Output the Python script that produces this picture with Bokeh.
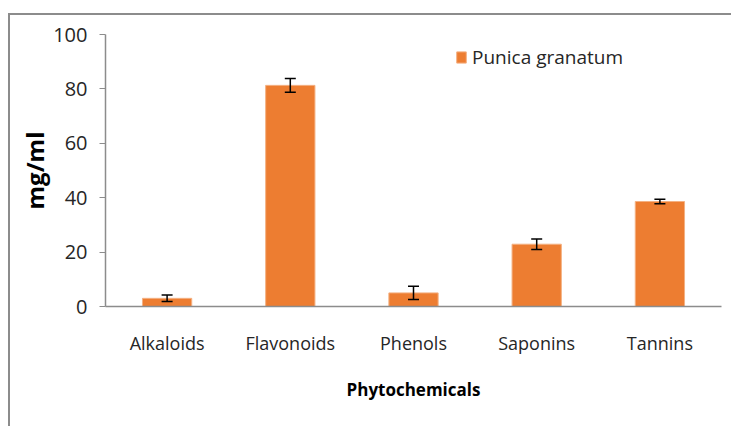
from bokeh.plotting import figure
from bokeh.models import ColumnDataSource, Whisker, Legend, LegendItem, Range1d, FixedTicker
from bokeh.embed import file_html
from bokeh.resources import INLINE

categories = ["Alkaloids", "Flavonoids", "Phenols", "Saponins", "Tannins"]
values = [3.0, 81.3, 5.0, 22.9, 38.6]
errors = [1.2, 2.5, 2.4, 1.9, 0.8]
series_name = "Punica granatum"
y_ticks = [0, 20, 40, 60, 80, 100]

src = ColumnDataSource(dict(
    cat=categories,
    val=values,
    upper=[v + e for v, e in zip(values, errors)],
    lower=[v - e for v, e in zip(values, errors)],
))

FONT = "Open Sans"
TXT = "#262626"
AXC = "#8c8c8c"

p = figure(x_range=categories, y_range=Range1d(0, 100),
           width=723, height=413, output_backend="svg", toolbar_location=None,
           min_border_left=95, min_border_right=12, min_border_top=19, min_border_bottom=122)
p.margin = (13, 0, 0, 8)
p.styles = {"border-top": "2px solid #8c8c8c", "border-left": "2px solid #8c8c8c"}
p.outline_line_color = None
p.xgrid.grid_line_color = None
p.ygrid.grid_line_color = None

bars = p.vbar(x="cat", top="val", width=0.4, source=src,
              fill_color="#ED7D31", line_color="#F4B183", line_width=1)

w = Whisker(base="cat", upper="upper", lower="lower", source=src,
            line_color="black", line_width=1.5, level="overlay")
w.upper_head.size = 11
w.lower_head.size = 11
w.upper_head.line_color = "black"
w.lower_head.line_color = "black"
w.upper_head.line_width = 1.5
w.lower_head.line_width = 1.5
p.add_layout(w)

p.yaxis.ticker = FixedTicker(ticks=y_ticks)
for ax in (p.xaxis, p.yaxis):
    ax.axis_line_color = AXC
    ax.axis_line_width = 1.5
    ax.major_label_text_font = FONT
    ax.major_label_text_color = TXT
    ax.axis_label_text_font = FONT
    ax.axis_label_text_color = "black"
    ax.axis_label_text_font_style = "bold"
    ax.minor_tick_line_color = None

p.yaxis.major_tick_line_color = AXC
p.yaxis.major_tick_in = 0
p.yaxis.major_tick_out = 6
p.yaxis.major_label_text_font_size = "20px"
p.yaxis.major_label_standoff = 12
p.yaxis.axis_label = "mg/ml"
p.yaxis.axis_label_text_font_size = "24px"
p.yaxis.axis_label_standoff = -1

p.xaxis.major_tick_line_color = None
p.xaxis.major_label_text_font_size = "18px"
p.xaxis.major_label_standoff = 18
p.xaxis.axis_label = "Phytochemicals"
p.xaxis.axis_label_text_font_size = "17px"
p.xaxis.axis_label_standoff = 20

legend = Legend(items=[LegendItem(label=series_name, renderers=[bars])],
                location=(350, 236), orientation="vertical",
                border_line_color=None, background_fill_alpha=0,
                padding=0, margin=0, glyph_width=12, glyph_height=14,
                label_standoff=5, label_text_font=FONT, label_text_font_size="19px",
                label_text_color=TXT)
p.add_layout(legend)

open("out.html", "w").write(file_html(p, INLINE))
